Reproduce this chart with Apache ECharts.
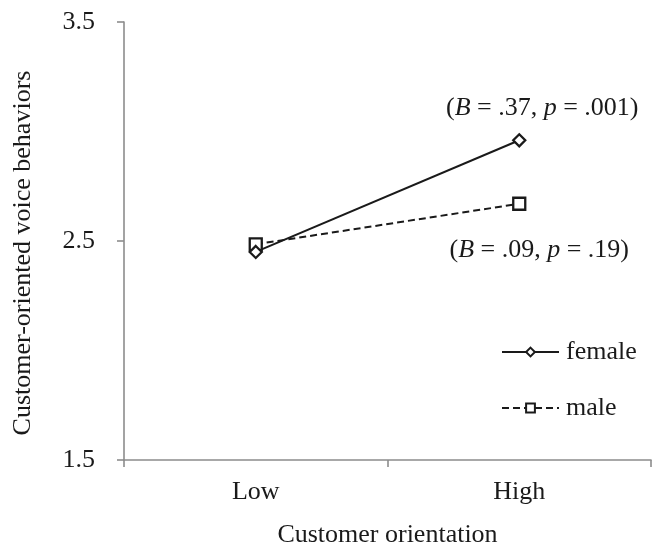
<!DOCTYPE html>
<html>
<head>
<meta charset="utf-8">
<script src="https://cdn.jsdelivr.net/npm/echarts@6/dist/echarts.min.js"></script>
<style>
  html, body { margin: 0; padding: 0; background: #fff; }
  #chart { width: 654px; height: 547px; }
</style>
</head>
<body>
<div id="chart"></div>
<script>
// Interaction plot: voice behaviours by customer orientation, split by gender
const categories = ['Low', 'High'];
const femaleValues = [2.45, 2.96];
const maleValues = [2.485, 2.67];
const femaleStats = { B: '.37', p: '.001' };
const maleStats = { B: '.09', p: '.19' };

const FONT = '"Liberation Serif", "Times New Roman", serif';
const FS = 26;
const INK = '#1a1a1a';
const AXIS_GREY = '#8c8c8c';

function statLabel(s) {
  return '({i|B} = ' + s.B + ', {i|p} = ' + s.p + ')';
}
const richItalic = { i: { fontStyle: 'italic', fontFamily: FONT, fontSize: FS, color: INK } };

const chart = echarts.init(document.getElementById('chart'), null, { renderer: 'canvas' });

chart.setOption({
  animation: false,
  backgroundColor: '#fff',
  textStyle: { fontFamily: FONT },
  grid: { left: 124, right: 3, top: 22, bottom: 87, containLabel: false, outerBoundsMode: 'none' },
  legend: {
    orient: 'vertical',
    left: 501,
    top: 339,
    padding: 0,
    itemWidth: 57,
    itemHeight: 11,
    itemGap: 30,
    lineStyle: { width: 2 },
    itemStyle: { borderWidth: 2 },
    textStyle: { fontFamily: FONT, fontSize: FS, color: INK, padding: [0, 0, 0, 2] },
    data: ['female', 'male']
  },
  xAxis: {
    type: 'category',
    data: categories,
    boundaryGap: true,
    name: 'Customer orientation',
    nameLocation: 'middle',
    nameGap: 62,
    nameTextStyle: { fontFamily: FONT, fontSize: FS, color: INK },
    axisLine: { lineStyle: { color: AXIS_GREY, width: 1.6 } },
    axisTick: { show: true, length: 7, lineStyle: { color: AXIS_GREY, width: 1.6 } },
    axisLabel: { fontFamily: FONT, fontSize: FS, color: INK, margin: 19 },
    splitLine: { show: false }
  },
  yAxis: {
    type: 'value',
    min: 1.5,
    max: 3.5,
    interval: 1,
    name: 'Customer-oriented voice behaviors',
    nameLocation: 'middle',
    nameGap: 88,
    nameRotate: 90,
    nameTextStyle: { fontFamily: FONT, fontSize: FS, color: INK, padding: [0, 24, 0, 0] },
    axisLine: { show: true, lineStyle: { color: AXIS_GREY, width: 1.6 } },
    axisTick: { show: true, length: 7, lineStyle: { color: AXIS_GREY, width: 1.6 } },
    axisLabel: { fontFamily: FONT, fontSize: FS, color: INK, margin: 29, formatter: v => v.toFixed(1) },
    splitLine: { show: false }
  },
  series: [
    {
      name: 'female',
      type: 'line',
      data: femaleValues,
      symbol: 'diamond',
      symbolSize: 12,
      showAllSymbol: true,
      lineStyle: { color: INK, width: 2, type: 'solid' },
      itemStyle: { color: '#fff', borderColor: INK, borderWidth: 2.3 },
      label: {
        show: true,
        position: 'inside',
        offset: [23, -32],
        fontFamily: FONT,
        fontSize: FS,
        color: INK,
        formatter: p => p.dataIndex === femaleValues.length - 1 ? statLabel(femaleStats) : '',
        rich: richItalic
      },
      z: 3
    },
    {
      name: 'male',
      type: 'line',
      data: maleValues,
      symbol: 'rect',
      symbolSize: 12,
      showAllSymbol: true,
      lineStyle: { color: INK, width: 2, type: [7, 4] },
      itemStyle: { color: '#fff', borderColor: INK, borderWidth: 2.3 },
      label: {
        show: true,
        position: 'inside',
        offset: [20, 46],
        fontFamily: FONT,
        fontSize: FS,
        color: INK,
        formatter: p => p.dataIndex === maleValues.length - 1 ? statLabel(maleStats) : '',
        rich: richItalic
      },
      z: 2
    }
  ]
});
</script>
</body>
</html>
